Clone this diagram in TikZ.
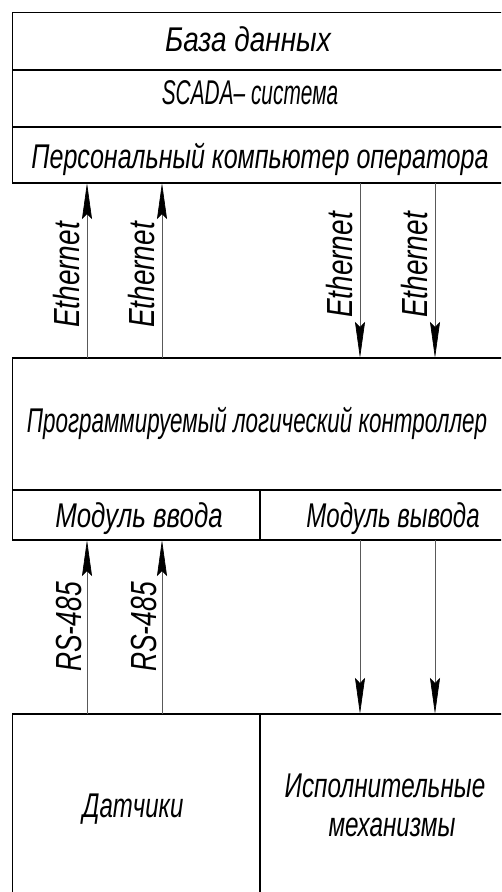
\documentclass[tikz,border=0pt]{standalone}
\usepackage{graphicx}
\usepackage{fontspec}
\setmainfont{Liberation Sans}[FakeStretch=0.8]
\usetikzlibrary{arrows.meta,calc}
\newcommand{\sx}[2]{\scalebox{#1}[1.04]{#2}}
\tikzset{
  box/.style={draw=black, line width=1.5pt, inner sep=0pt, outer sep=0pt, anchor=north west},
  lbl/.style={font=\fontsize{33}{36}\selectfont\itshape, inner sep=0pt, anchor=base},
  vlbl/.style={lbl, rotate=90},
  conn/.style={draw=black!65, line width=0.7pt,
    -{Stealth[length=36pt, width=10pt, inset=5pt, color=black]}}
}
\begin{document}
\begin{tikzpicture}[x=1pt,y=-1pt]
\useasboundingbox (0,0) rectangle (501,892);
\clip (0,0) rectangle (501,892);
% boxes
\node[box, minimum width=501.3pt, minimum height=57.3pt] (db) at (12.7,12.7) {};
\node[box, minimum width=501.3pt, minimum height=57pt] (scada) at (12.7,70) {};
\node[box, minimum width=501.3pt, minimum height=56pt] (pc) at (12.7,127) {};
\node[box, minimum width=501.3pt, minimum height=132pt] (plc) at (12.7,358) {};
\node[box, minimum width=247.3pt, minimum height=50pt] (in) at (12.7,490) {};
\node[box, minimum width=254pt, minimum height=50pt] (out) at (260,490) {};
\node[box, minimum width=247.3pt, minimum height=250pt] (sens) at (12.7,714) {};
\node[box, minimum width=254pt, minimum height=250pt] (act) at (260,714) {};
% texts
\node[lbl] (tdb) at (248,51) {\sx{1.06}{База данных}};
\node[lbl] (tscada) at (250,104) {\sx{0.79}{SCADA– система}};
\node[lbl] (tpc) at (260,168) {\sx{0.95}{Персональный компьютер оператора}};
\node[lbl] (tplc) at (257,432) {\sx{0.85}{Программируемый логический контроллер}};
\node[lbl] (tin) at (139,527) {\sx{0.98}{Модуль ввода}};
\node[lbl] (tout) at (393,527) {\sx{0.91}{Модуль вывода}};
\node[lbl] (tsens) at (133,817) {\sx{0.91}{Датчики}};
\node[lbl] (tact1) at (385,797) {\sx{0.92}{Исполнительные}};
\node[lbl] (tact2) at (392,836) {\sx{0.92}{механизмы}};
% connector columns
\coordinate (c1) at (87,0);
\coordinate (c2) at (162,0);
\coordinate (c3) at (360,0);
\coordinate (c4) at (435,0);
% Ethernet
\draw[conn] (c1 |- plc.north) -- (c1 |- pc.south);
\draw[conn] (c2 |- plc.north) -- (c2 |- pc.south);
\draw[conn] (c3 |- pc.south) -- (c3 |- plc.north);
\draw[conn] (c4 |- pc.south) -- (c4 |- plc.north);
\node[vlbl] (e1) at (79,275) {\scalebox{1.06}[1.1]{Ethernet}};
\node[vlbl] (e2) at (154,275) {\scalebox{1.06}[1.1]{Ethernet}};
\node[vlbl] (e3) at (352,265) {\scalebox{1.06}[1.1]{Ethernet}};
\node[vlbl] (e4) at (427,265) {\scalebox{1.06}[1.1]{Ethernet}};
% field level
\draw[conn] (c1 |- sens.north) -- (c1 |- in.south);
\draw[conn] (c2 |- sens.north) -- (c2 |- in.south);
\draw[conn] (c3 |- out.south) -- (c3 |- act.north);
\draw[conn] (c4 |- out.south) -- (c4 |- act.north);
\node[vlbl] (r1) at (81,627) {\scalebox{1.0}[1.1]{RS-485}};
\node[vlbl] (r2) at (156,627) {\scalebox{1.0}[1.1]{RS-485}};
\end{tikzpicture}
\end{document}
